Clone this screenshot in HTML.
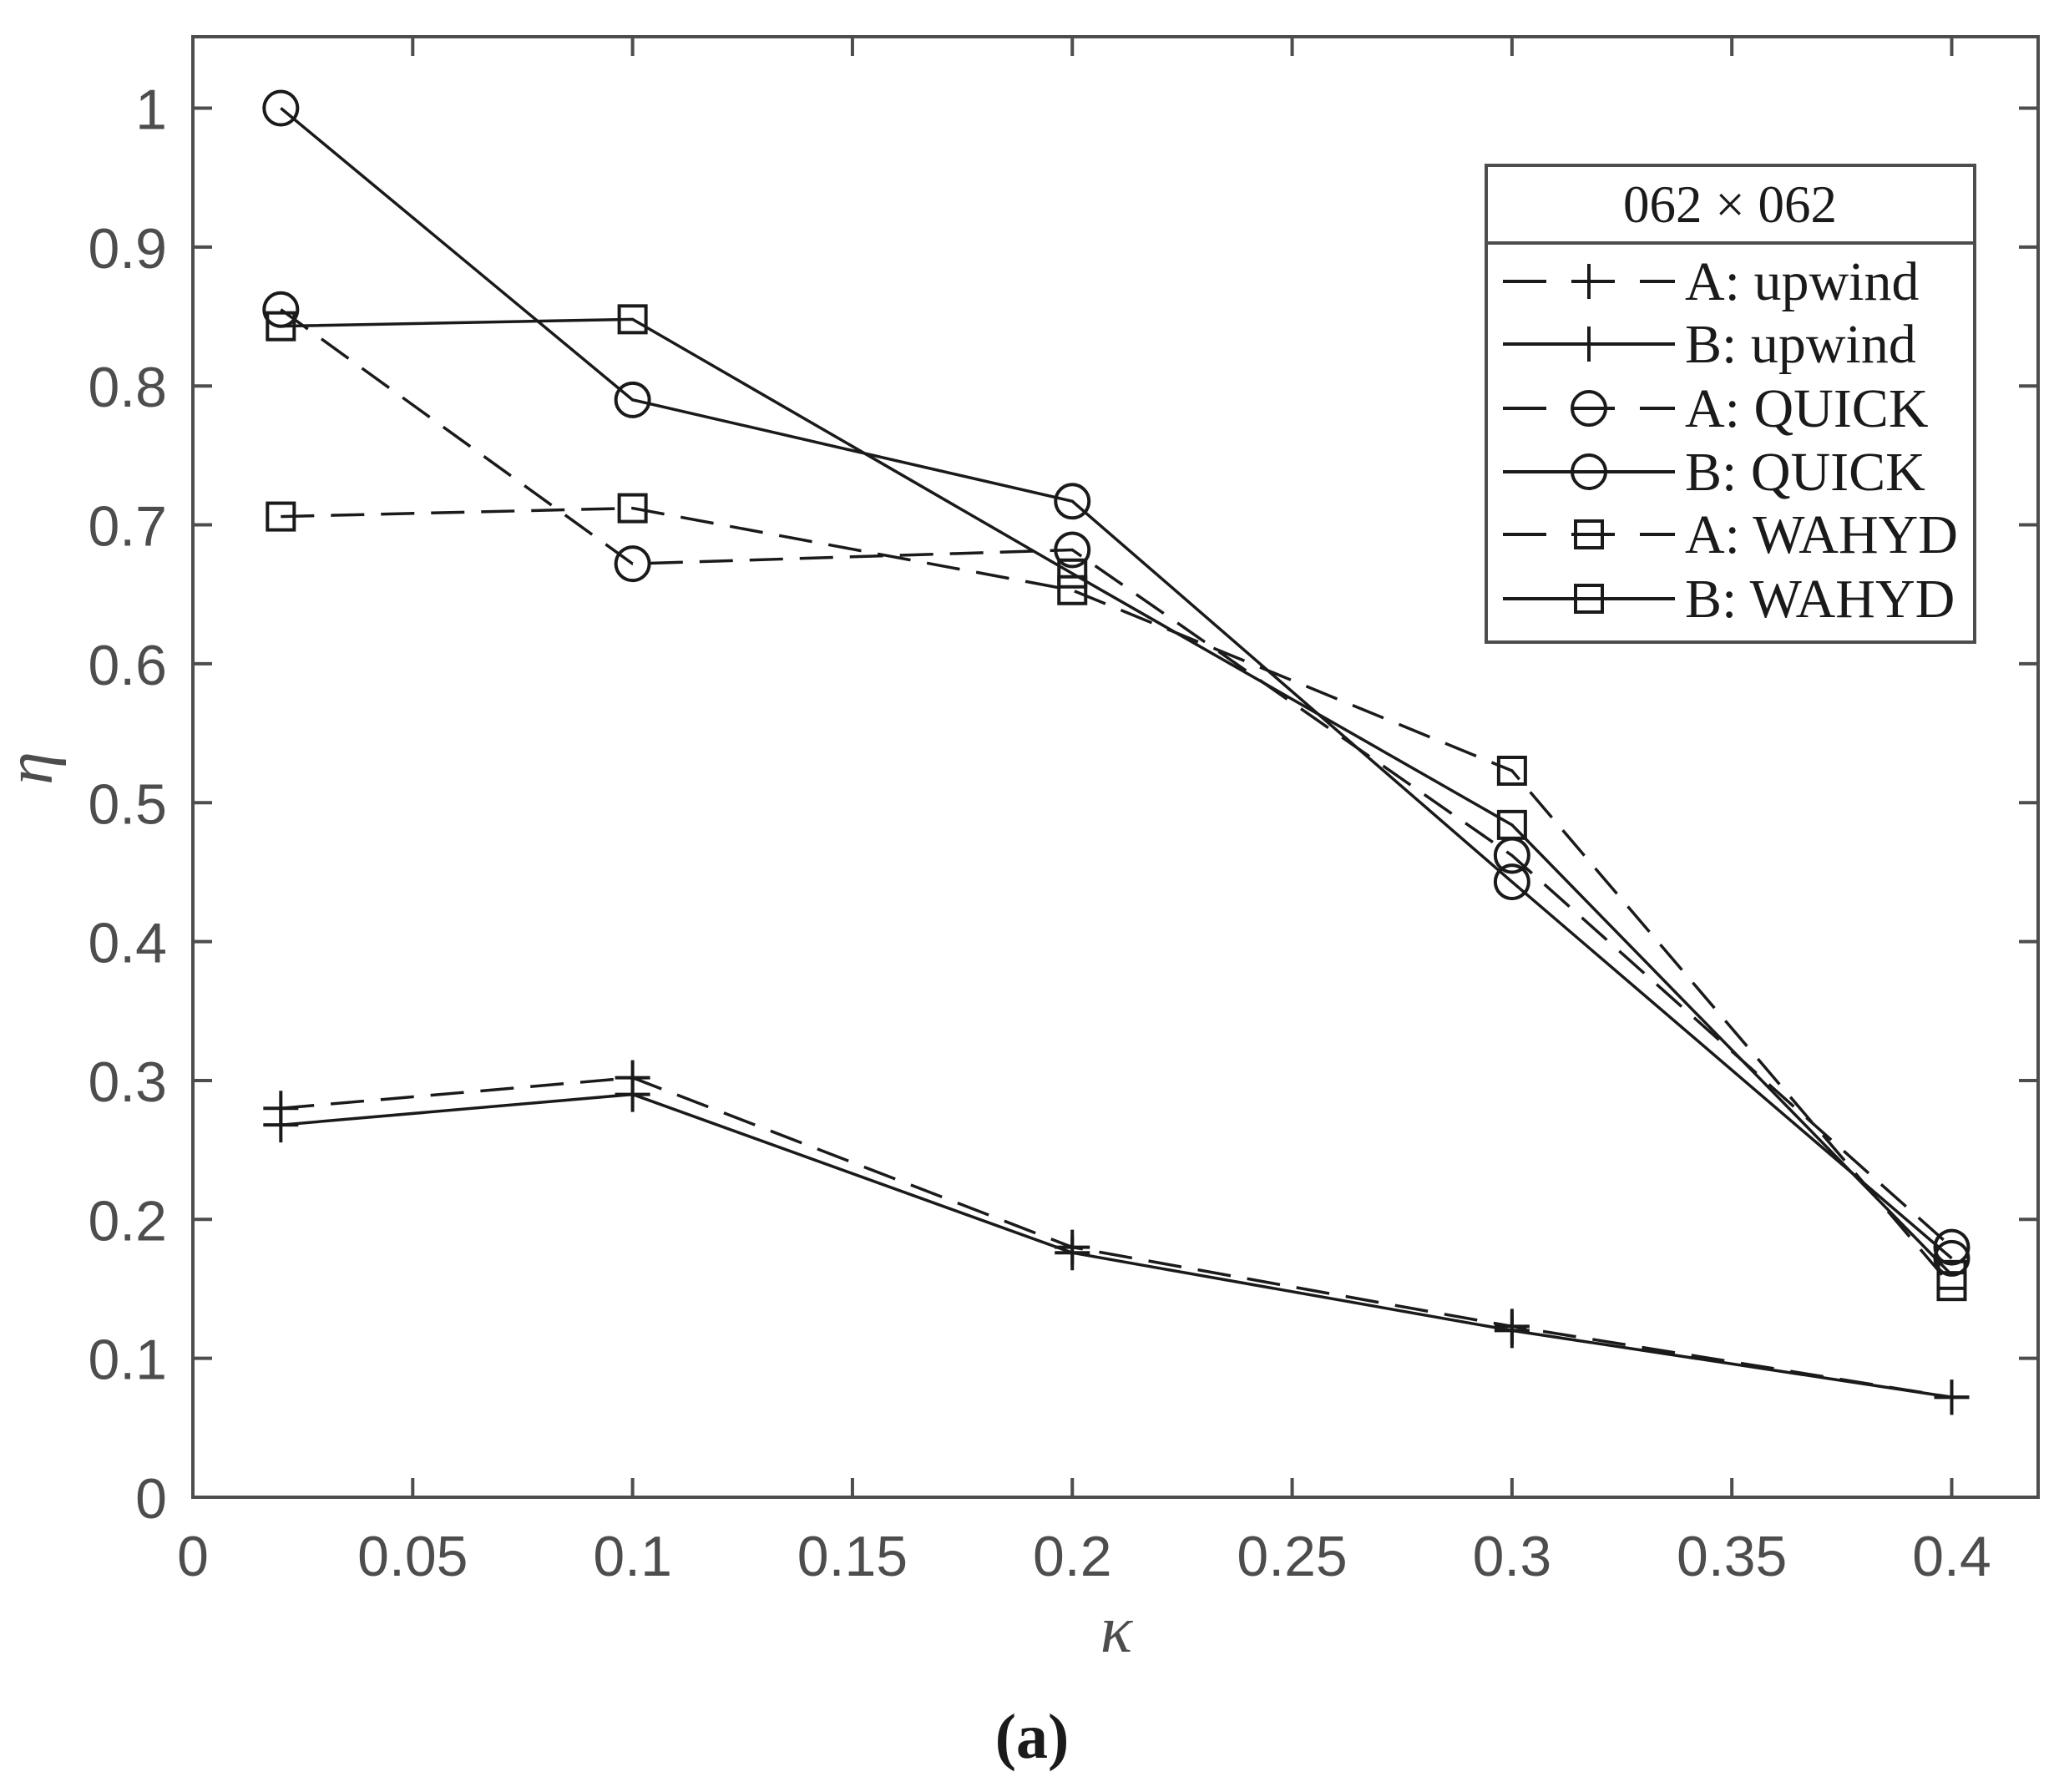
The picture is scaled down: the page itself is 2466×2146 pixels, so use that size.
<!DOCTYPE html>
<html><head><meta charset="utf-8"><style>
html,body{margin:0;padding:0;background:#fff;}
svg{display:block;}
</style></head><body>
<svg id="s" width="2466" height="2146" xmlns="http://www.w3.org/2000/svg">
</svg>
<script>
var s=document.getElementById('s');
var L=231,R=2441,T=44,B=1793;
function X(v){return L+v*5266.25;}
function Y(v){return B-v*1663.5;}
var h='';
var ax='#4d4d4d';
h+='<rect x="'+L+'" y="'+T+'" width="'+(R-L)+'" height="'+(B-T)+'" fill="none" stroke="'+ax+'" stroke-width="4"/>';
var xt=[0,0.05,0.1,0.15,0.2,0.25,0.3,0.35,0.4];
xt.forEach(function(v){var x=X(v);
h+='<line x1="'+x+'" y1="'+B+'" x2="'+x+'" y2="'+(B-23)+'" stroke="'+ax+'" stroke-width="4"/>';
h+='<line x1="'+x+'" y1="'+T+'" x2="'+x+'" y2="'+(T+23)+'" stroke="'+ax+'" stroke-width="4"/>';
h+='<text x="'+x+'" y="1887" font-family="Liberation Sans, sans-serif" font-size="68" fill="'+ax+'" text-anchor="middle">'+v+'</text>';});
for(var i=0;i<=10;i++){var v=i/10,y=Y(v);
h+='<line x1="'+L+'" y1="'+y+'" x2="'+(L+23)+'" y2="'+y+'" stroke="'+ax+'" stroke-width="4"/>';
h+='<line x1="'+R+'" y1="'+y+'" x2="'+(R-23)+'" y2="'+y+'" stroke="'+ax+'" stroke-width="4"/>';
h+='<text x="200" y="'+(y+25)+'" font-family="Liberation Sans, sans-serif" font-size="68" fill="'+ax+'" text-anchor="end">'+(i==10?'1':(i==0?'0':v))+'</text>';}
var xs=[0.02,0.1,0.2,0.3,0.4];
var series=[
['plus',1,[0.28,0.302,0.18,0.123,0.072]],
['plus',0,[0.268,0.29,0.176,0.12,0.072]],
['circ',1,[0.855,0.672,0.682,0.462,0.18]],
['circ',0,[1.0,0.79,0.717,0.443,0.172]],
['sq',1,[0.706,0.712,0.653,0.523,0.152]],
['sq',0,[0.843,0.848,0.665,0.484,0.16]]];
function mk(t,x,y){
 if(t=='plus')return '<path d="M'+(x-21)+' '+y+'H'+(x+21)+'M'+x+' '+(y-21)+'V'+(y+21)+'" stroke="#1a1a1a" stroke-width="4" fill="none"/>';
 if(t=='circ')return '<circle cx="'+x+'" cy="'+y+'" r="20" stroke="#1a1a1a" stroke-width="4" fill="none"/>';
 return '<rect x="'+(x-16)+'" y="'+(y-16)+'" width="32" height="32" stroke="#1a1a1a" stroke-width="4" fill="none"/>';
}
series.forEach(function(sr){
 var p=xs.map(function(x,i){return X(x)+','+Y(sr[2][i]);}).join(' ');
 h+='<polyline points="'+p+'" fill="none" stroke="#1a1a1a" stroke-width="3.5"'+(sr[1]?' stroke-dasharray="40 20"':'')+'/>';
 xs.forEach(function(x,i){h+=mk(sr[0],X(x),Y(sr[2][i]));});
});
h+='<rect x="1780" y="198" width="585" height="571" fill="#fff" stroke="'+ax+'" stroke-width="4"/>';
h+='<line x1="1780" y1="291" x2="2365" y2="291" stroke="'+ax+'" stroke-width="4"/>';
h+='<text x="2072" y="266" font-family="Liberation Serif, serif" font-size="63" fill="#1a1a1a" text-anchor="middle">062 × 062</text>';
var names=['A: upwind','B: upwind','A: QUICK','B: QUICK','A: WAHYD','B: WAHYD'];
var ly=[337,412,489,565,640,717];
series.forEach(function(sr,i){var y=ly[i];
 if(sr[1]){h+='<path d="M1800 '+y+'H1852M1882 '+y+'H1934M1964 '+y+'H2006" stroke="#1a1a1a" stroke-width="4"/>';}
 else h+='<line x1="1800" y1="'+y+'" x2="2006" y2="'+y+'" stroke="#1a1a1a" stroke-width="4"/>';
 h+=mk(sr[0],1903,y);
 h+='<text x="2018" y="'+(y+22)+'" font-family="Liberation Serif, serif" font-size="66" fill="#1a1a1a">'+names[i]+'</text>';
});
h+='<text x="1337" y="1978" font-family="Liberation Serif, serif" font-style="italic" font-size="80" fill="'+ax+'" text-anchor="middle">κ</text>';
h+='<text transform="translate(62,920) rotate(-90)" font-family="Liberation Serif, serif" font-style="italic" font-size="80" fill="'+ax+'" text-anchor="middle">η</text>';
h+='<text x="1236" y="2105" font-family="Liberation Serif, serif" font-weight="bold" font-size="76" fill="#1a1a1a" text-anchor="middle">(a)</text>';
s.innerHTML=h;
</script>
</body></html>
